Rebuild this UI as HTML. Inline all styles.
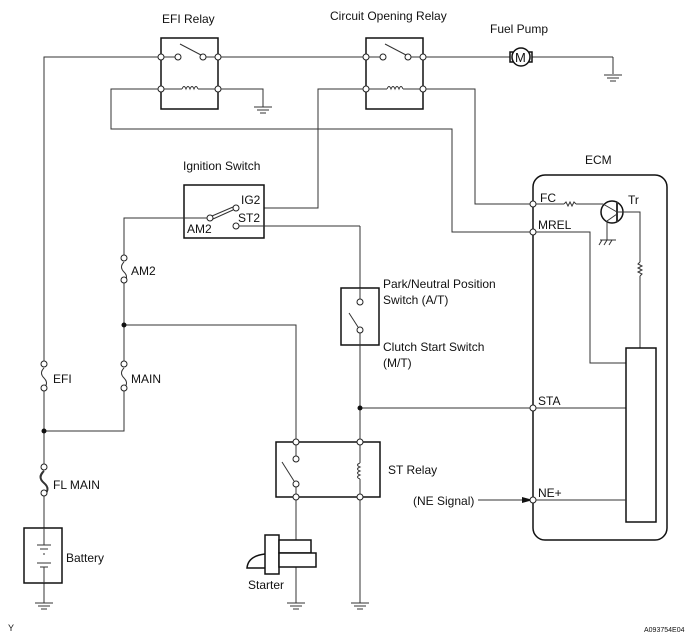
<!DOCTYPE html>
<html><head><meta charset="utf-8"><style>
html,body{margin:0;padding:0;background:#fff;}
svg{display:block;font-family:"Liberation Sans",Arial,sans-serif;}
text{font-size:12px;fill:#111;}
</style></head><body>
<svg width="692" height="640" viewBox="0 0 692 640" xmlns="http://www.w3.org/2000/svg">
<g stroke="#333" stroke-width="1" fill="none">
<polyline points="161,57 44,57 44,364"/>
<line x1="44" y1="388" x2="44" y2="467"/>
<line x1="44" y1="493" x2="44" y2="528"/>
<line x1="44" y1="583" x2="44" y2="603"/>
<rect x="161" y="38" width="57" height="71" stroke="#111" stroke-width="1.5"/>
<line x1="161" y1="57" x2="176" y2="57"/>
<line x1="180" y1="44" x2="201" y2="55"/>
<line x1="205" y1="57" x2="218" y2="57"/>
<line x1="161" y1="89" x2="182" y2="89"/>
<path d="M182,89 q2,-5 4,0 q2,-5 4,0 q2,-5 4,0 q2,-5 4,0"/>
<line x1="198" y1="89" x2="218" y2="89"/>
<polyline points="161,89 111,89 111,129 452,129 452,232 533,232"/>
<polyline points="218,89 263,89 263,107"/>
<line x1="254" y1="107" x2="272" y2="107"/><line x1="257" y1="110" x2="269" y2="110"/><line x1="260" y1="113" x2="266" y2="113"/>
<line x1="218" y1="57" x2="366" y2="57"/>
<rect x="366" y="38" width="57" height="71" stroke="#111" stroke-width="1.5"/>
<line x1="366" y1="57" x2="381" y2="57"/>
<line x1="385" y1="44" x2="406" y2="55"/>
<line x1="410" y1="57" x2="423" y2="57"/>
<line x1="366" y1="89" x2="387" y2="89"/>
<path d="M387,89 q2,-5 4,0 q2,-5 4,0 q2,-5 4,0 q2,-5 4,0"/>
<line x1="403" y1="89" x2="423" y2="89"/>
<polyline points="366,89 318,89 318,208 264,208"/>
<polyline points="423,89 475,89 475,204 533,204"/>
<line x1="423" y1="57" x2="510" y2="57"/>
<line x1="532" y1="57" x2="613" y2="57"/>
<polyline points="613,57 613,74"/>
<line x1="604" y1="75" x2="622" y2="75"/><line x1="607" y1="78" x2="619" y2="78"/><line x1="610" y1="81" x2="616" y2="81"/>
<circle cx="521" cy="57" r="9" stroke="#111" stroke-width="1.5"/>
<polyline points="513,52 510,52 510,62 513,62" stroke="#111" stroke-width="1.5"/>
<polyline points="529,52 532,52 532,62 529,62" stroke="#111" stroke-width="1.5"/>
<rect x="184" y="185" width="80" height="53" stroke="#111" stroke-width="1.5"/>
<polyline points="210,218 124,218 124,258"/>
<line x1="212" y1="216" x2="233" y2="207"/><line x1="213" y1="219" x2="233" y2="210"/>
<line x1="238" y1="226" x2="360" y2="226"/>
<line x1="360" y1="226" x2="360" y2="288"/>
<line x1="124" y1="280" x2="124" y2="364"/>
<polyline points="124,388 124,431 44,431"/>
<polyline points="124,325 296,325 296,442"/>
<rect x="341" y="288" width="38" height="57" stroke="#111" stroke-width="1.5"/>
<line x1="360" y1="288" x2="360" y2="302"/>
<line x1="349" y1="313" x2="358" y2="327"/>
<line x1="360" y1="332" x2="360" y2="442"/>
<line x1="360" y1="408" x2="626" y2="408"/>
<rect x="276" y="442" width="104" height="55" stroke="#111" stroke-width="1.5"/>
<line x1="296" y1="442" x2="296" y2="456"/>
<line x1="282" y1="462" x2="294" y2="481"/>
<line x1="296" y1="486" x2="296" y2="497"/>
<line x1="360" y1="442" x2="360" y2="463"/>
<path d="M360,463 q-5,2 0,4 q-5,2 0,4 q-5,2 0,4 q-5,2 0,4"/>
<line x1="360" y1="479" x2="360" y2="497"/>
<line x1="296" y1="497" x2="296" y2="603"/>
<line x1="360" y1="497" x2="360" y2="603"/>
<g>
<line x1="35" y1="603" x2="53" y2="603"/><line x1="38" y1="606" x2="50" y2="606"/><line x1="41" y1="609" x2="47" y2="609"/>
<line x1="287" y1="603" x2="305" y2="603"/><line x1="290" y1="606" x2="302" y2="606"/><line x1="293" y1="609" x2="299" y2="609"/>
<line x1="351" y1="603" x2="369" y2="603"/><line x1="354" y1="606" x2="366" y2="606"/><line x1="357" y1="609" x2="363" y2="609"/>
</g>
<rect x="24" y="528" width="38" height="55" stroke="#111" stroke-width="1.5"/>
<line x1="44" y1="528" x2="44" y2="545"/>
<line x1="37" y1="545" x2="51" y2="545"/><line x1="40" y1="549" x2="48" y2="549"/>
<line x1="44" y1="553" x2="44" y2="556" stroke-dasharray="2,2"/>
<line x1="37" y1="563" x2="51" y2="563"/><line x1="40" y1="567" x2="48" y2="567"/>
<line x1="44" y1="567" x2="44" y2="583"/>
<g stroke="#111" stroke-width="1.5" fill="#fff">
<rect x="265" y="535" width="14" height="39"/>
<rect x="279" y="540" width="32" height="13"/>
<rect x="279" y="553" width="37" height="14"/>
<path d="M265,554 q-17,2 -18,14 h18" fill="none"/>
</g>
<rect x="533" y="175" width="134" height="365" rx="12" stroke="#111" stroke-width="1.5"/>
<line x1="533" y1="204" x2="564" y2="204"/>
<path d="M564,204 l2,-2 l2,4 l2,-4 l2,4 l2,-4 l2,2"/>
<line x1="576" y1="204" x2="603" y2="204"/>
<circle cx="612" cy="212" r="11" stroke="#111" stroke-width="1.5"/>
<line x1="617" y1="202" x2="617" y2="222" stroke-width="2"/>
<line x1="603" y1="204" x2="617" y2="212"/>
<line x1="617" y1="214" x2="607" y2="221"/>
<polyline points="607,221 607,240"/>
<line x1="600" y1="240" x2="616" y2="240"/>
<line x1="602" y1="240" x2="599" y2="245"/><line x1="607" y1="240" x2="604" y2="245"/><line x1="612" y1="240" x2="609" y2="245"/>
<polyline points="617,212 640,212 640,262"/>
<path d="M640,262 l-2,2 l4,2 l-4,2 l4,2 l-4,2 l4,2 l-2,2"/>
<line x1="640" y1="276" x2="640" y2="348"/>
<polyline points="533,232 590,232 590,363 626,363"/>
<rect x="626" y="348" width="30" height="174" stroke="#111" stroke-width="1.5"/>
<line x1="533" y1="500" x2="626" y2="500"/>
<line x1="478" y1="500" x2="524" y2="500"/>
</g>
<polygon points="533,500 522,497 522,503" fill="#111"/>
<g stroke="#333" fill="none">
<path d="M44,368 q-5,5 0,10 q5,5 0,10"/>
<path d="M124,262 q-5,5 0,10 q5,5 0,10"/>
<path d="M124,368 q-5,5 0,10 q5,5 0,10"/>
<path d="M44,471 q-7,6 0,12 q7,6 0,12" stroke-width="2"/>
<path d="M43,473 q-4,5 0,9" />
</g>
<g fill="#fff" stroke="#222" stroke-width="1">
<circle cx="161" cy="57" r="3"/><circle cx="178" cy="57" r="3"/><circle cx="203" cy="57" r="3"/><circle cx="218" cy="57" r="3"/>
<circle cx="161" cy="89" r="3"/><circle cx="218" cy="89" r="3"/>
<circle cx="366" cy="57" r="3"/><circle cx="383" cy="57" r="3"/><circle cx="408" cy="57" r="3"/><circle cx="423" cy="57" r="3"/>
<circle cx="366" cy="89" r="3"/><circle cx="423" cy="89" r="3"/>
<circle cx="210" cy="218" r="3"/><circle cx="236" cy="208" r="3"/><circle cx="236" cy="226" r="3"/>
<circle cx="124" cy="258" r="3"/><circle cx="124" cy="280" r="3"/>
<circle cx="124" cy="364" r="3"/><circle cx="124" cy="388" r="3"/>
<circle cx="44" cy="364" r="3"/><circle cx="44" cy="388" r="3"/>
<circle cx="44" cy="467" r="3"/><circle cx="44" cy="493" r="3"/>
<circle cx="360" cy="302" r="3"/><circle cx="360" cy="330" r="3"/>
<circle cx="296" cy="442" r="3"/><circle cx="296" cy="459" r="3"/><circle cx="296" cy="484" r="3"/><circle cx="296" cy="497" r="3"/>
<circle cx="360" cy="442" r="3"/><circle cx="360" cy="497" r="3"/>
<circle cx="533" cy="204" r="3"/><circle cx="533" cy="232" r="3"/><circle cx="533" cy="408" r="3"/><circle cx="533" cy="500" r="3"/>
</g>
<g fill="#111">
<circle cx="124" cy="325" r="2.5"/><circle cx="44" cy="431" r="2.5"/><circle cx="360" cy="408" r="2.5"/>
</g>
<text x="515" y="62" style="font-size:13px">M</text>
<text x="162" y="23">EFI Relay</text>
<text x="330" y="20">Circuit Opening Relay</text>
<text x="490" y="33">Fuel Pump</text>
<text x="183" y="170">Ignition Switch</text>
<text x="241" y="204">IG2</text>
<text x="238" y="222">ST2</text>
<text x="187" y="233">AM2</text>
<text x="131" y="275">AM2</text>
<text x="53" y="383">EFI</text>
<text x="131" y="383">MAIN</text>
<text x="53" y="489">FL MAIN</text>
<text x="66" y="562">Battery</text>
<text x="248" y="589">Starter</text>
<text x="383" y="288">Park/Neutral Position</text>
<text x="383" y="304">Switch (A/T)</text>
<text x="383" y="351">Clutch Start Switch</text>
<text x="383" y="367">(M/T)</text>
<text x="388" y="474">ST Relay</text>
<text x="585" y="164">ECM</text>
<text x="540" y="202">FC</text>
<text x="538" y="229">MREL</text>
<text x="628" y="204">Tr</text>
<text x="538" y="405">STA</text>
<text x="538" y="497">NE+</text>
<text x="413" y="505">(NE Signal)</text>
<text x="8" y="631" style="font-size:9px">Y</text>
<text x="644" y="632" style="font-size:7px">A093754E04</text>
</svg>
</body></html>
